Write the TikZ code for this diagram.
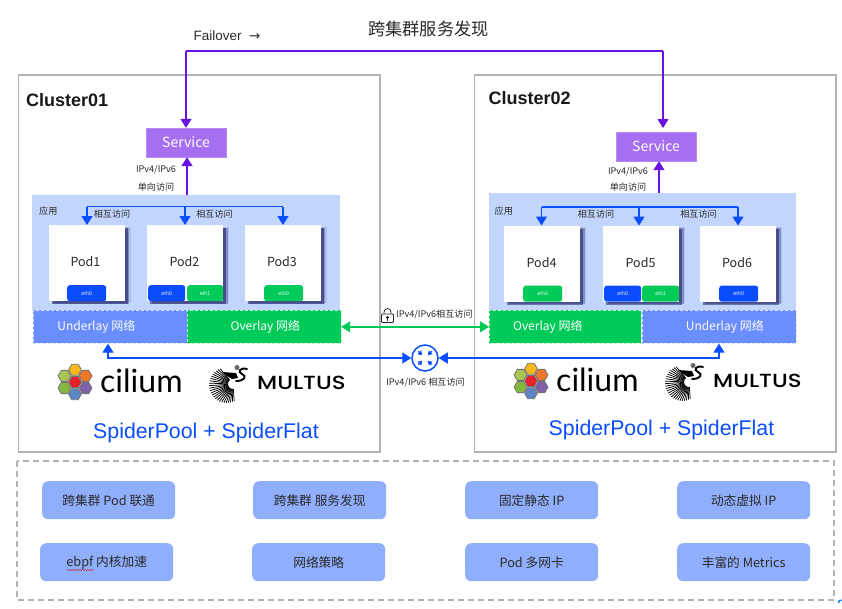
\documentclass[tikz,border=0pt]{standalone}
\usepackage{graphicx}
\usepackage{fontspec}
\setmainfont{Liberation Sans}
\newfontfamily\cjk{Noto Sans CJK SC}
\usetikzlibrary{arrows.meta,shadows,decorations.pathmorphing}
\definecolor{purp}{HTML}{6A12E2}
\definecolor{svc}{HTML}{A66EF0}
\definecolor{blu}{HTML}{0A4DFF}
\definecolor{grn}{HTML}{00CB58}
\definecolor{und}{HTML}{6A8DFF}
\definecolor{appbg}{HTML}{C2D6FD}
\definecolor{feat}{HTML}{8FAEFB}
\definecolor{frame}{HTML}{B2B2B2}
\definecolor{txt}{HTML}{2A2A2A}
\tikzset{
  x=1pt,y=-1pt,
  clusterbox/.style={draw=frame,line width=1.7pt,fill=white,minimum width=#1,minimum height=377pt,inner sep=0pt,outer sep=0pt,anchor=north west},
  clustertitle/.style={font=\bfseries\fontsize{18}{20}\selectfont,text=black!90,anchor=west,inner sep=0pt},
  svcbox/.style={fill=svc,draw=svc!80!white,line width=.4pt,minimum width=80pt,minimum height=29pt,inner sep=0pt,text=white,font=\cjk\fontsize{14}{16}\selectfont},
  appbox/.style={fill=appbg,minimum height=116pt,minimum width=308pt,inner sep=0pt,anchor=north west},
  smalltxt/.style={font=\cjk\fontsize{9.1}{10}\selectfont,text=txt,inner sep=0pt},
  podbox/.style={fill=white,minimum width=76pt,minimum height=76pt,inner sep=0pt,anchor=north west,
     drop shadow={shadow xshift=6pt,shadow yshift=-1.5pt,opacity=.10,fill=black!70!blue},
     drop shadow={shadow xshift=4.5pt,shadow yshift=-2.5pt,opacity=.25,fill=black!70!blue},
     drop shadow={shadow xshift=3pt,shadow yshift=-3pt,opacity=.45,fill=black!70!blue}},
  podlabel/.style={font=\cjk\fontsize{12.5}{14}\selectfont,text=txt,inner sep=0pt},
  ethbox/.style={fill=#1,rounded corners=2.5pt,minimum height=16pt,inner sep=0pt,text=white!85!#1,font=\fontsize{5.5}{6}\selectfont,anchor=north west},
  netbox/.style={fill=#1,draw=white!75!#1,densely dashed,line width=.7pt,minimum height=33pt,minimum width=154pt,inner sep=0pt,anchor=north west,text=white,font=\cjk\fontsize{12}{14}\selectfont},
  purparrow/.style={draw=purp,line width=1.5pt,-{Triangle[width=11pt,length=9pt]}},
  purpline/.style={draw=purp,line width=1.5pt},
  busline/.style={draw=blu,line width=1.3pt},
  busarrow/.style={draw=blu,line width=1.3pt,-{Triangle[width=11pt,length=9pt]}},
  netarrow/.style={draw=#1,line width=1.4pt,{Triangle[width=11pt,length=9pt]}-{Triangle[width=11pt,length=9pt]}},
  sptext/.style={font=\fontsize{21.3}{24}\selectfont,text=blu,inner sep=0pt},
  featbox/.style={fill=feat,rounded corners=6pt,minimum width=133pt,minimum height=38pt,inner sep=0pt,anchor=north west,font=\cjk\fontsize{12.7}{14}\selectfont,text=txt},
  ciliumtext/.style={font=\fontspec{Lato}\fontsize{32}{34}\selectfont,text=black,inner sep=0pt,anchor=west},
  multustext/.style={font=\fontspec{Poppins Medium}\fontsize{19}{21}\selectfont,text=black,inner sep=0pt,anchor=west},
  hexa/.style={fill=#1,draw=black!55,line width=.8pt,line join=round},
}
% Cilium hexagon cluster: #1 = centre
\newcommand{\ciliumlogo}[1]{%
  \begin{scope}[shift={(#1)}]
    \foreach \a/\c in {90/F5B91E,30/F0762A,-30/8061A9,-90/5D87C4,-150/86B83F,150/A9C655,0/E8202A}{%
      \ifnum\a=0 \def\d{0}\else\def\d{12.2}\fi
      \definecolor{hc}{HTML}{\c}
      \pgfmathsetmacro{\hx}{\d*cos(\a)}\pgfmathsetmacro{\hy}{-\d*sin(\a)}
      \draw[hexa=hc] (\hx+6.4,\hy) -- (\hx+3.2,\hy+5.54) -- (\hx-3.2,\hy+5.54) -- (\hx-6.4,\hy) -- (\hx-3.2,\hy-5.54) -- (\hx+3.2,\hy-5.54) -- cycle;
    }
  \end{scope}}
% Multus bird: #1 = origin (fan centre)
\newcommand{\multuslogo}[1]{%
  \begin{scope}[shift={(#1)}]
    \foreach \a in {130,136,...,274}{%
      \pgfmathsetmacro{\rr}{16+8*cos(\a-190)}
      \draw[black,line width=.75pt] (\a:5pt) -- (\a:\rr pt);
    }
    \fill[black] (-11,-12) -- (3,-11) -- (5,-6) -- (-1,-5) -- (-6,-8) -- cycle;
    \draw[black,line width=1.9pt,line cap=round] (14,-15) .. controls (7,-17) and (4,-12) .. (9,-10) .. controls (14,-8) and (12,-3) .. (3,-3);
    \fill[black!60] (4,-16.5) circle (2.5pt);
  \end{scope}}
\begin{document}
\begin{tikzpicture}
\useasboundingbox (0,0) rectangle (842,608);
\fill[white] (0,0) rectangle (842,608);
% Clusters
\node[clusterbox=361.5pt] (c1) at (18.5,75) {};
\node[clusterbox=361.5pt] (c2) at (474.5,75) {};
\node[clustertitle] (t1) at (26,100) {Cluster01};
\node[clustertitle] (t2) at (488.5,98) {Cluster02};
% Top labels
\node[font=\fontsize{13.5}{15}\selectfont,text=txt,inner sep=0pt] (fo) at (227,36) {Failover \ {\fontspec{DejaVu Sans}→}};
\node[font=\cjk\fontsize{17.2}{19}\selectfont,text=txt,inner sep=0pt] (title) at (428.5,29) {跨集群服务发现};
% App zones
\node[appbox] (app1) at (32,195) {};
\node[appbox,minimum width=307pt,minimum height=117pt] (app2) at (489,193) {};
\node[smalltxt,anchor=west] at (39,211) {应用};
\node[smalltxt,anchor=west] at (494.5,211.5) {应用};
% Services
\node[svcbox] (svc1) at (186,142.5) {Service};
\node[svcbox] (svc2) at (656,146.5) {Service};
% Pods
\node[podbox] (p1) at (48.5,225) {};
\node[podbox] (p2) at (147,225) {};
\node[podbox] (p3) at (244.5,225) {};
\node[podbox] (p4) at (504,225.5) {};
\node[podbox] (p5) at (603,225.5) {};
\node[podbox] (p6) at (700,225.5) {};
\node[podlabel] at (85.5,262) {Pod1};
\node[podlabel] at (184.5,262) {Pod2};
\node[podlabel] at (282,262) {Pod3};
\node[podlabel] at (541.5,262.5) {Pod4};
\node[podlabel] at (640.5,262.5) {Pod5};
\node[podlabel] at (737,262.5) {Pod6};
% Eth
\node[ethbox=blu,minimum width=39pt] at (67,285) {eth0};
\node[ethbox=blu,minimum width=37pt] at (148,285) {eth0};
\node[ethbox=grn,minimum width=36pt] at (187,285) {eth1};
\node[ethbox=grn,minimum width=39pt] at (264,285) {eth0};
\node[ethbox=grn,minimum width=39pt] at (523,285.5) {eth0};
\node[ethbox=blu,minimum width=37pt] at (604,285.5) {eth0};
\node[ethbox=grn,minimum width=37pt] at (642,285.5) {eth1};
\node[ethbox=blu,minimum width=39pt] at (719,285.5) {eth0};
% Networks
\node[netbox=und] (u1) at (33,310) {\hspace*{-28pt}Underlay 网络};
\node[netbox=grn] (o1) at (186.5,310) {\hspace*{3pt}Overlay 网络};
\node[netbox=grn,minimum width=152pt] (o2) at (489,310) {\hspace*{-35pt}Overlay 网络};
\node[netbox=und] (u2) at (642,310) {\hspace*{11pt}Underlay 网络};
% Failover lines
\coordinate (f1) at (186,51);
\coordinate (f2) at (663,51);
\draw[purpline] (f1) -- (f2);
\draw[purparrow] (f1) -- (svc1.north);
\draw[purparrow] (f2) -- (663,128);
% up arrows
\coordinate (a1) at (187,195);
\coordinate (a2) at (659,193);
\draw[purparrow] (a1) -- (a1 |- svc1.south);
\draw[purparrow] (a2) -- (a2 |- svc2.south);
\node[smalltxt] at (156,170) {IPv4/IPv6};
\node[smalltxt] at (156,187) {单向访问};
\node[smalltxt] at (628,171.5) {IPv4/IPv6};
\node[smalltxt] at (628,187.5) {单向访问};
% Blue buses
\coordinate (b1l) at (87,206.5); \coordinate (b1m) at (185,206.5); \coordinate (b1r) at (283,206.5);
\coordinate (b2l) at (541.5,207); \coordinate (b2m) at (639,207); \coordinate (b2r) at (738,207);
\draw[busline] (b1l) -- (b1r);
\draw[busarrow] (b1l) -- (b1l |- p1.north);
\draw[busarrow] (b1m) -- (b1m |- p2.north);
\draw[busarrow] (b1r) -- (b1r |- p3.north);
\draw[busline] (b2l) -- (b2r);
\draw[busarrow] (b2l) -- (b2l |- p4.north);
\draw[busarrow] (b2m) -- (b2m |- p5.north);
\draw[busarrow] (b2r) -- (b2r |- p6.north);
\node[smalltxt] at (112,214) {相互访问};
\node[smalltxt] at (214.5,214) {相互访问};
\node[smalltxt] at (596,214.5) {相互访问};
\node[smalltxt] at (698.5,214) {相互访问};
% Middle links
\draw[netarrow=grn] (o1.east) -- (o2.west);
\node[circle,draw=blu,line width=1.5pt,minimum size=26pt,inner sep=0pt,fill=white] (hub) at (425,358) {};
\foreach \ang in {45,135,225,315}{%
  \draw[blu,line width=1.1pt,-{Triangle[width=5pt,length=4pt]}] ([shift={(\ang:9.5pt)}]hub.center) -- ([shift={(\ang:4pt)}]hub.center);
}
\coordinate (uu1) at (108,358);
\coordinate (uu2) at (719,358);
\draw[netarrow=blu] (hub.west) -- (uu1) -- (uu1 |- u1.south);
\draw[netarrow=blu] (hub.east) -- (uu2) -- (uu2 |- u2.south);
% Lock icon
\draw[black!85,line width=.8pt] (384,314) -- (384,312) .. controls (384,307.5) and (391,307.5) .. (391,312) -- (391,314);
\draw[black!85,line width=.8pt,rounded corners=1pt,fill=white] (381.5,314) rectangle (393.5,322.5);
\fill[black!85] (387.5,317.5) circle (1.6pt);
\draw[black!85,line width=.9pt] (387.5,317.5) -- (387.5,320.5);
\node[smalltxt,anchor=west] at (396,314) {IPv4/IPv6相互访问};
\node[smalltxt] at (425.5,382) {IPv4/IPv6 相互访问};
% Logos
\ciliumlogo{75,382}
\node[ciliumtext] at (100,381) {cilium};
\multuslogo{233,384}
\node[multustext] at (257,382.5) {\scalebox{1.2}[1]{MULTUS}};
\ciliumlogo{531,381}
\node[ciliumtext] at (556,380) {cilium};
\multuslogo{689,382}
\node[multustext] at (713,380.5) {\scalebox{1.2}[1]{MULTUS}};
\node[sptext] at (206,432.5) {SpiderPool + SpiderFlat};
\node[sptext] at (661.5,430) {SpiderPool + SpiderFlat};
% Features
\draw[frame,line width=1.5pt,dash pattern=on 6pt off 4pt] (17,461) rectangle (834,600);
\node[featbox] at (42,481) {跨集群 Pod 联通};
\node[featbox] at (253,481) {跨集群 服务发现};
\node[featbox] at (465,481) {固定静态 IP};
\node[featbox] at (677,481) {动态虚拟 IP};
\node[featbox] at (40,543) {ebpf 内核加速};
\node[featbox] at (252,543) {网络策略};
\node[featbox] at (465,543) {Pod 多网卡};
\node[featbox] at (677,543) {丰富的 Metrics};
\draw[red!80!black,line width=.4pt,decorate,decoration={snake,amplitude=.5pt,segment length=2.5pt}] (67,570) -- (94,570);
\draw[blu!70!cyan,line width=1.5pt] (841.5,600) .. controls (839.5,600) and (838.5,601.5) .. (838.5,603);
\end{tikzpicture}
\end{document}
